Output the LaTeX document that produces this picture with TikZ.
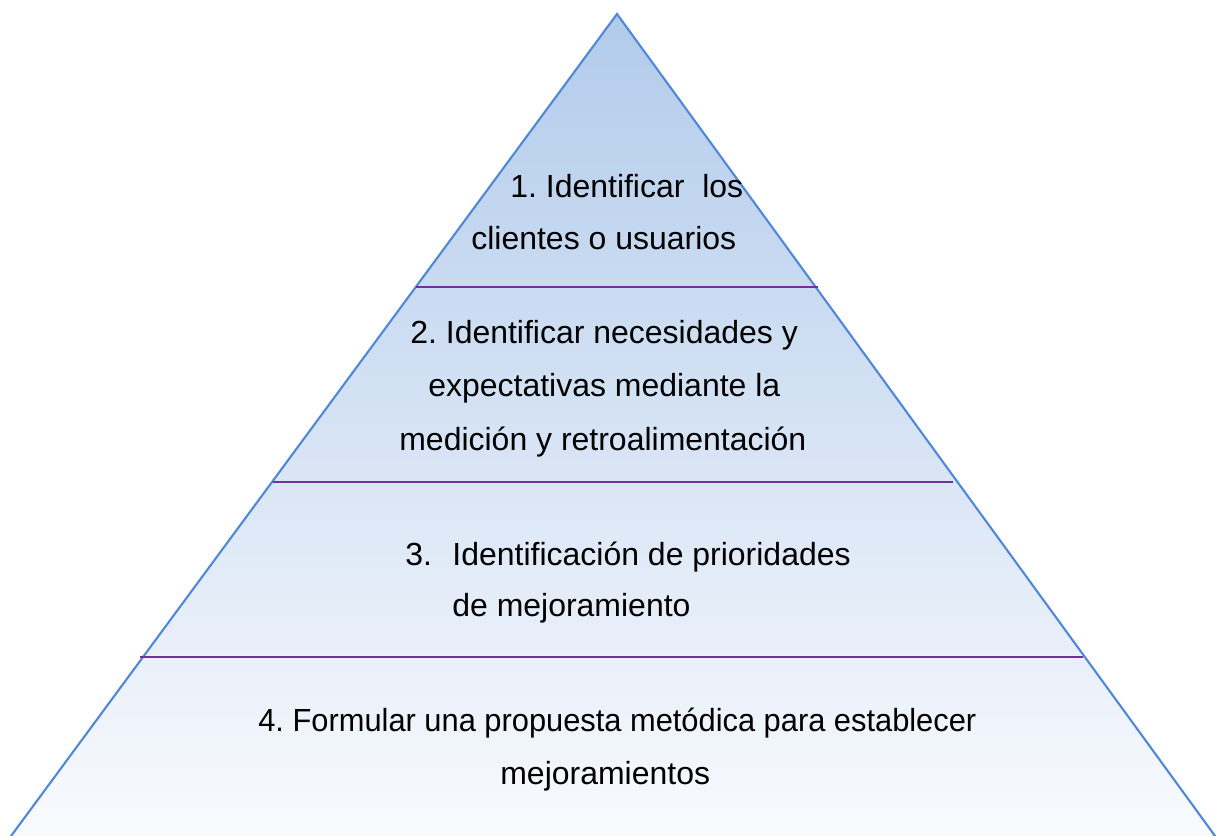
\documentclass[tikz,border=0pt]{standalone}
\usepackage{fontspec}
\setmainfont{Liberation Sans}
\frenchspacing
\definecolor{edgeblue}{RGB}{80,136,214}
\definecolor{layerpurple}{RGB}{112,48,160}
\definecolor{topblue}{RGB}{178,203,235}
\definecolor{basewhite}{RGB}{250,251,254}
\tikzset{
  edge/.style={draw=edgeblue, line width=1.2pt},
  divider/.style={draw=layerpurple, line width=1.6pt},
  txt/.style={anchor=base west, inner sep=0pt, font=\fontsize{18.2}{30}\selectfont},
}
\begin{document}
\begin{tikzpicture}[x=0.02cm,y=-0.02cm]
  \useasboundingbox (0,0) rectangle (1216,835);
  \clip (0,0) rectangle (1216,835);

  % pyramid
  \coordinate (apex) at (617,14);
  \coordinate (bl) at (0,851);
  \coordinate (br) at (1226,851);
  \shade[top color=topblue, bottom color=basewhite] (apex) -- (bl) -- (br) -- cycle;
  \draw[edge] (bl) -- (apex) -- (br);

  % layers
  \draw[divider] (416,287) -- (818,287);
  \draw[divider] (273,482) -- (953,482);
  \draw[divider] (140,657) -- (1083,657);

  % texts
  \node[txt] (s1a) at (510,197) {1. Identificar\ \ los};
  \node[txt] (s1b) at (471,249) {clientes o usuarios};

  \node[txt] (s2a) at (410,343) {2. Identificar necesidades y};
  \node[txt] (s2b) at (428,396) {expectativas mediante la};
  \node[txt] (s2c) at (399,450) {medición y retroalimentación};

  \node[txt] (s3a) at (405,565) {3.\hspace{0.41cm}Identificación de prioridades};
  \node[txt] (s3b) at (452,616) {de mejoramiento};

  \node[txt] (s4a) at (258,731) {\scalebox{0.964}[1]{4. Formular una propuesta metódica para establecer}};
  \node[txt] (s4b) at (500,784) {mejoramientos};
\end{tikzpicture}
\end{document}
